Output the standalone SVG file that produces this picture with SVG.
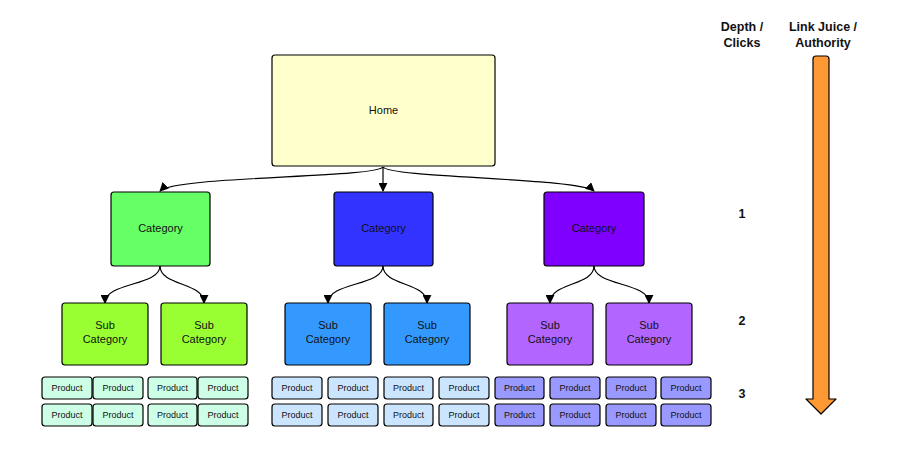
<svg xmlns="http://www.w3.org/2000/svg" width="904" height="461" viewBox="0 0 904 461">
<defs>
<style>
.n{stroke:#000;stroke-width:1.2}
.t{font-family:"Liberation Sans",Arial,sans-serif;font-size:11px;fill:#111;text-anchor:middle}
.p{font-family:"Liberation Sans",Arial,sans-serif;font-size:9px;fill:#111;text-anchor:middle}
.h{font-family:"Liberation Sans",Arial,sans-serif;font-size:12.5px;font-weight:bold;fill:#111;text-anchor:middle}
.c{fill:none;stroke:#000;stroke-width:1.2}
.pg{fill:#CCFFE5}.pb{fill:#CCE5FF}.pp{fill:#9999FF}
</style>
<marker id="a" viewBox="0 0 10 10" refX="9" refY="5" markerWidth="9" markerHeight="9" markerUnits="userSpaceOnUse" orient="auto"><path d="M0,0 L10,5 L0,10 z" fill="#000"/></marker>
</defs>
<rect width="904" height="461" fill="#fff"/>
<g id="connectors">
<path class="c" marker-end="url(#a)" d="M383,167 C375,178 175,176 160,191"/>
<path class="c" marker-end="url(#a)" d="M383,167 L383,191"/>
<path class="c" marker-end="url(#a)" d="M383,167 C391,178 580,178 594,191"/>
<path class="c" marker-end="url(#a)" d="M160,266 C160,286 105,282 105,303"/>
<path class="c" marker-end="url(#a)" d="M160,266 C160,286 204,282 204,303"/>
<path class="c" marker-end="url(#a)" d="M383,266 C383,286 328,282 328,303"/>
<path class="c" marker-end="url(#a)" d="M383,266 C383,286 427,282 427,303"/>
<path class="c" marker-end="url(#a)" d="M594,266 C594,286 550,282 550,303"/>
<path class="c" marker-end="url(#a)" d="M594,266 C594,286 649,282 649,303"/>
</g>
<g id="home"><rect class="n" x="272" y="55" width="223" height="111" rx="3" fill="#FFFFCC"/><text class="t" x="383.5" y="114">Home</text></g>
<g id="cat1"><rect class="n" x="111" y="192" width="99" height="74" rx="3" fill="#66FF66"/><text class="t" x="160.5" y="232">Category</text></g>
<g id="cat2"><rect class="n" x="334" y="192" width="99" height="74" rx="3" fill="#3333FF"/><text class="t" x="383.5" y="232">Category</text></g>
<g id="cat3"><rect class="n" x="544" y="192" width="100" height="74" rx="3" fill="#7F00FF"/><text class="t" x="594" y="232">Category</text></g>
<g id="sub1"><rect class="n" x="62" y="303" width="86" height="62" rx="3" fill="#99FF33"/><text class="t" x="105" y="329">Sub</text><text class="t" x="105" y="343">Category</text></g>
<g id="sub2"><rect class="n" x="161" y="303" width="86" height="62" rx="3" fill="#99FF33"/><text class="t" x="204" y="329">Sub</text><text class="t" x="204" y="343">Category</text></g>
<g id="sub3"><rect class="n" x="285" y="303" width="86" height="62" rx="3" fill="#3399FF"/><text class="t" x="328" y="329">Sub</text><text class="t" x="328" y="343">Category</text></g>
<g id="sub4"><rect class="n" x="384" y="303" width="86" height="62" rx="3" fill="#3399FF"/><text class="t" x="427" y="329">Sub</text><text class="t" x="427" y="343">Category</text></g>
<g id="sub5"><rect class="n" x="507" y="303" width="86" height="62" rx="3" fill="#B266FF"/><text class="t" x="550" y="329">Sub</text><text class="t" x="550" y="343">Category</text></g>
<g id="sub6"><rect class="n" x="606" y="303" width="86" height="62" rx="3" fill="#B266FF"/><text class="t" x="649" y="329">Sub</text><text class="t" x="649" y="343">Category</text></g>
<g id="products">
<g id="p1"><rect class="n pg" x="42" y="377" width="50" height="22" rx="3"/><text class="p" x="67" y="391">Product</text></g>
<g id="p2"><rect class="n pg" x="93" y="377" width="50" height="22" rx="3"/><text class="p" x="118" y="391">Product</text></g>
<g id="p3"><rect class="n pg" x="148" y="377" width="49" height="22" rx="3"/><text class="p" x="172.5" y="391">Product</text></g>
<g id="p4"><rect class="n pg" x="198" y="377" width="50" height="22" rx="3"/><text class="p" x="223" y="391">Product</text></g>
<g id="p5"><rect class="n pg" x="42" y="404" width="50" height="22" rx="3"/><text class="p" x="67" y="418">Product</text></g>
<g id="p6"><rect class="n pg" x="93" y="404" width="50" height="22" rx="3"/><text class="p" x="118" y="418">Product</text></g>
<g id="p7"><rect class="n pg" x="148" y="404" width="49" height="22" rx="3"/><text class="p" x="172.5" y="418">Product</text></g>
<g id="p8"><rect class="n pg" x="198" y="404" width="50" height="22" rx="3"/><text class="p" x="223" y="418">Product</text></g>
<g id="p9"><rect class="n pb" x="272" y="377" width="50" height="22" rx="3"/><text class="p" x="297" y="391">Product</text></g>
<g id="p10"><rect class="n pb" x="328" y="377" width="50" height="22" rx="3"/><text class="p" x="353" y="391">Product</text></g>
<g id="p11"><rect class="n pb" x="384" y="377" width="49" height="22" rx="3"/><text class="p" x="408.5" y="391">Product</text></g>
<g id="p12"><rect class="n pb" x="439" y="377" width="50" height="22" rx="3"/><text class="p" x="464" y="391">Product</text></g>
<g id="p13"><rect class="n pb" x="272" y="404" width="50" height="22" rx="3"/><text class="p" x="297" y="418">Product</text></g>
<g id="p14"><rect class="n pb" x="328" y="404" width="50" height="22" rx="3"/><text class="p" x="353" y="418">Product</text></g>
<g id="p15"><rect class="n pb" x="384" y="404" width="49" height="22" rx="3"/><text class="p" x="408.5" y="418">Product</text></g>
<g id="p16"><rect class="n pb" x="439" y="404" width="50" height="22" rx="3"/><text class="p" x="464" y="418">Product</text></g>
<g id="p17"><rect class="n pp" x="495" y="377" width="49" height="22" rx="3"/><text class="p" x="519.5" y="391">Product</text></g>
<g id="p18"><rect class="n pp" x="550" y="377" width="50" height="22" rx="3"/><text class="p" x="575" y="391">Product</text></g>
<g id="p19"><rect class="n pp" x="606" y="377" width="50" height="22" rx="3"/><text class="p" x="631" y="391">Product</text></g>
<g id="p20"><rect class="n pp" x="661" y="377" width="50" height="22" rx="3"/><text class="p" x="686" y="391">Product</text></g>
<g id="p21"><rect class="n pp" x="495" y="404" width="49" height="22" rx="3"/><text class="p" x="519.5" y="418">Product</text></g>
<g id="p22"><rect class="n pp" x="550" y="404" width="50" height="22" rx="3"/><text class="p" x="575" y="418">Product</text></g>
<g id="p23"><rect class="n pp" x="606" y="404" width="50" height="22" rx="3"/><text class="p" x="631" y="418">Product</text></g>
<g id="p24"><rect class="n pp" x="661" y="404" width="50" height="22" rx="3"/><text class="p" x="686" y="418">Product</text></g>
</g>
<g id="depth-label"><text class="h" x="742" y="31">Depth /</text><text class="h" x="742" y="47">Clicks</text></g>
<g id="juice-label"><text class="h" x="823" y="31">Link Juice /</text><text class="h" x="823" y="47">Authority</text></g>
<g id="levels"><text class="h" x="742" y="218">1</text><text class="h" x="742" y="325">2</text><text class="h" x="742" y="398">3</text></g>
<g id="juice-arrow"><path d="M816,56 L826,56 Q829,56 829,59 L829,399 L836,399 L821,414 L806,399 L813,399 L813,59 Q813,56 816,56 Z" fill="#FF9933" stroke="#000" stroke-width="1.2" stroke-linejoin="round"/></g>
</svg>
